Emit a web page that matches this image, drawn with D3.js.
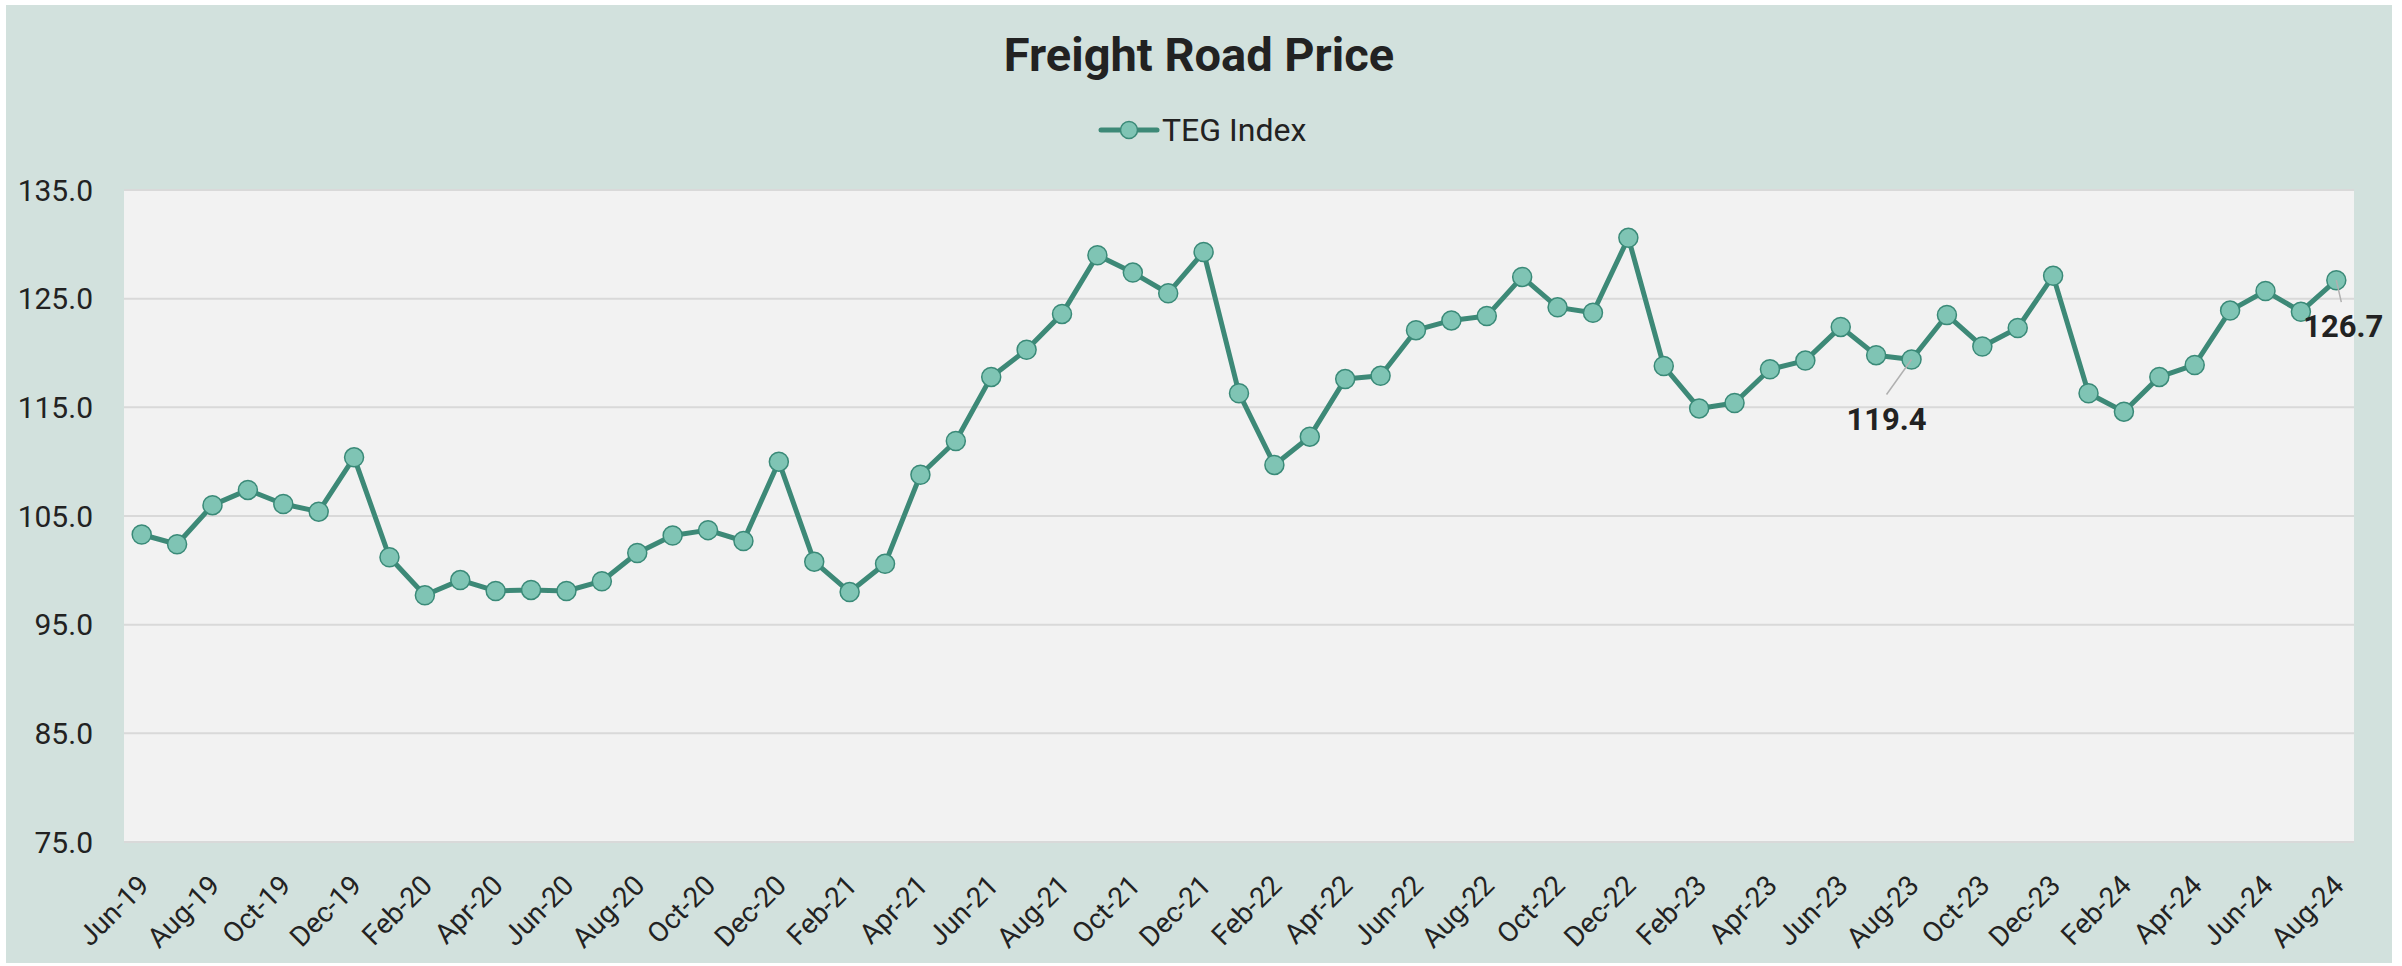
<!DOCTYPE html>
<html>
<head>
<meta charset="utf-8">
<script src="https://cdn.jsdelivr.net/npm/d3@7"></script>
<style>
  body { margin: 0; background: #fff; }
  text { font-family: Roboto, "Noto Sans", sans-serif; fill: #222; }
</style>
</head>
<body>
<svg width="2402" height="966"></svg>
<script>
var months = ["Jun-19","Jul-19","Aug-19","Sep-19","Oct-19","Nov-19","Dec-19",
  "Jan-20","Feb-20","Mar-20","Apr-20","May-20","Jun-20","Jul-20","Aug-20","Sep-20","Oct-20","Nov-20","Dec-20",
  "Jan-21","Feb-21","Mar-21","Apr-21","May-21","Jun-21","Jul-21","Aug-21","Sep-21","Oct-21","Nov-21","Dec-21",
  "Jan-22","Feb-22","Mar-22","Apr-22","May-22","Jun-22","Jul-22","Aug-22","Sep-22","Oct-22","Nov-22","Dec-22",
  "Jan-23","Feb-23","Mar-23","Apr-23","May-23","Jun-23","Jul-23","Aug-23","Sep-23","Oct-23","Nov-23","Dec-23",
  "Jan-24","Feb-24","Mar-24","Apr-24","May-24","Jun-24","Jul-24","Aug-24"];

var tegIndex = [103.3,102.4,106.0,107.4,106.1,105.4,110.4,
  101.2,97.7,99.1,98.1,98.2,98.1,99.0,101.6,103.2,103.7,102.7,110.0,
  100.8,98.0,100.6,108.8,111.9,117.8,120.3,123.6,129.0,127.4,125.5,129.3,
  116.3,109.7,112.3,117.6,117.9,122.1,123.0,123.4,127.0,124.2,123.7,130.6,
  118.8,114.9,115.4,118.5,119.3,122.4,119.8,119.4,123.5,120.6,122.3,127.1,
  116.3,114.6,117.8,118.9,123.9,125.7,123.8,126.7];

var yTicks = [75, 85, 95, 105, 115, 125, 135];
var xTicks = months.filter(function(d, i){ return i % 2 == 0; });
var labelMonths = ["Aug-23", "Aug-24"];

var svg = d3.select("svg");
var plotLeft = 124, plotRight = 2354, plotTop = 190, plotBottom = 842;

var lineColor = "#3d8977", dotFill = "#7fc4b4", dotStroke = "#3a8a78";

// backgrounds
svg.append("rect").attr("x", 6).attr("y", 5).attr("width", 2386).attr("height", 958).attr("fill", "#d2e1dd");
svg.append("rect").attr("x", plotLeft).attr("y", plotTop)
  .attr("width", plotRight - plotLeft).attr("height", plotBottom - plotTop).attr("fill", "#f2f2f2");

var x = d3.scaleBand().domain(months).range([plotLeft, plotRight]).padding(0);
var y = d3.scaleLinear().domain([75, 135]).range([plotBottom, plotTop]);
function cx(d){ return x(d) + x.bandwidth() / 2; }

// gridlines
svg.append("g").selectAll("line")
  .data(yTicks)
  .enter().append("line")
  .attr("x1", plotLeft).attr("x2", plotRight)
  .attr("y1", function(d){ return y(d); })
  .attr("y2", function(d){ return y(d); })
  .attr("stroke", "#d9d9d9")
  .attr("stroke-width", 2);

// y labels
svg.append("g").selectAll("text")
  .data(yTicks)
  .enter().append("text")
  .attr("x", 93)
  .attr("y", function(d){ return y(d); })
  .attr("dy", "0.36em")
  .attr("text-anchor", "end")
  .style("font-size", "30px")
  .text(function(d){ return d.toFixed(1); });

// x axis
var xAxis = svg.append("g")
  .attr("transform", "translate(0," + plotBottom + ")")
  .call(d3.axisBottom(x).tickValues(xTicks).tickSize(0));
xAxis.select(".domain").remove();
xAxis.selectAll("text")
  .attr("y", 0).attr("dy", 0)
  .attr("text-anchor", "end")
  .attr("transform", "translate(9,45) rotate(-45)")
  .style("font-size", "28px")
  .style("font-family", "Roboto, sans-serif")
  .attr("fill", "#222");

// line
var line = d3.line()
  .x(function(d, i){ return cx(months[i]); })
  .y(function(d){ return y(d); });

svg.append("path")
  .datum(tegIndex)
  .attr("d", line)
  .attr("fill", "none")
  .attr("stroke", lineColor)
  .attr("stroke-width", 5)
  .attr("stroke-linejoin", "round");

svg.append("g").selectAll("circle")
  .data(tegIndex)
  .enter().append("circle")
  .attr("cx", function(d, i){ return cx(months[i]); })
  .attr("cy", function(d){ return y(d); })
  .attr("r", 9.5)
  .attr("fill", dotFill)
  .attr("stroke", dotStroke)
  .attr("stroke-width", 1.5);

// data labels with leader lines
var labelOffsets = { "Aug-23": { lx: -25, ly: 35, tx: -25, ty: 70 },
                     "Aug-24": { lx: 5, ly: 22, tx: 7, ty: 57 } };
labelMonths.forEach(function(m){
  var i = months.indexOf(m), v = tegIndex[i], o = labelOffsets[m];
  var px = cx(m), py = y(v);
  svg.append("line")
    .attr("x1", px).attr("y1", py)
    .attr("x2", px + o.lx).attr("y2", py + o.ly)
    .attr("stroke", "#b0b0b0").attr("stroke-width", 1.5);
  svg.append("text")
    .attr("x", px + o.tx).attr("y", py + o.ty)
    .attr("text-anchor", "middle")
    .style("font-size", "31px").style("font-weight", "bold")
    .text(v.toFixed(1));
});

// title
svg.append("text")
  .attr("x", 1199).attr("y", 71)
  .attr("text-anchor", "middle")
  .style("font-size", "47px").style("font-weight", "bold")
  .text("Freight Road Price");

// legend
var lg = svg.append("g");
lg.append("line").attr("x1", 1101).attr("x2", 1157).attr("y1", 130).attr("y2", 130)
  .attr("stroke", lineColor).attr("stroke-width", 5).attr("stroke-linecap", "round");
lg.append("circle").attr("cx", 1129).attr("cy", 130).attr("r", 8.5)
  .attr("fill", dotFill).attr("stroke", dotStroke).attr("stroke-width", 1.5);
lg.append("text").attr("x", 1162).attr("y", 141)
  .style("font-size", "32px").text("TEG Index");
</script>
</body>
</html>
